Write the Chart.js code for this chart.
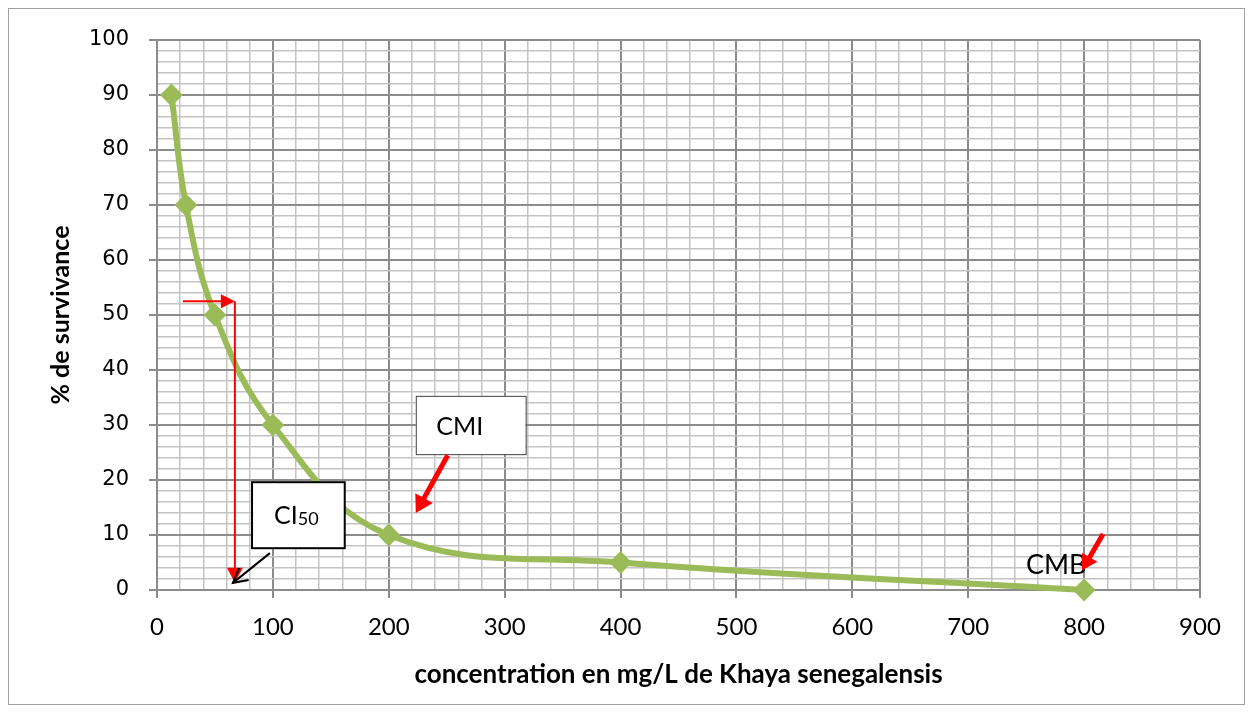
<!DOCTYPE html>
<html lang="fr">
<head>
  <meta charset="UTF-8" />
  <title>% de survivance - Khaya senegalensis</title>
  <script src="https://cdn.jsdelivr.net/npm/chart.js"></script>
  <style>
    html, body { margin: 0; padding: 0; background: #fff; }
    #wrap { width: 1252px; height: 714px; position: relative; }
  </style>
</head>
<body>
  <div id="wrap"><canvas id="chart"></canvas></div>

  <script>
    // ==== DATA ====
    const concentrations = [12.5, 25, 50, 100, 200, 400, 800];
    const survivance = [90, 70, 50, 30, 10, 5, 0];

    const xTitle = 'concentration en mg/L de Khaya senegalensis';
    const yTitle = '% de survivance';

    // annotation anchors, in data units (x = mg/L, y = %)
    const ci50Guide = [[22.4, 52.5], [67.2, 52.5], [67.2, 1.3]];
    const ci50Box = [82, 19.6, 162, 7.6];
    const ci50Pointer = [[97.4, 6.7], [65.5, 1.3]];
    const cmiBox = [223.3, 35.3, 318.1, 24.7];
    const cmiPointer = [[250.9, 24.5], [223.3, 14]];
    const cmbLabel = [775.9, 4.5];
    const cmbPointer = [[816.4, 10.2], [798.3, 3.6]];

    const green = '#9bbb59';
    const majorGrid = '#8c8c8c';
    const minorGrid = '#c3c3c3';
    const sans = 'Lato, "Liberation Sans", sans-serif';

    // ==== HELPERS ====
    function arrowHead(ctx, x1, y1, x2, y2, len, half, color) {
      const a = Math.atan2(y2 - y1, x2 - x1);
      ctx.save();
      ctx.fillStyle = color;
      ctx.beginPath();
      ctx.moveTo(x2, y2);
      ctx.lineTo(x2 - len * Math.cos(a) + half * Math.sin(a), y2 - len * Math.sin(a) - half * Math.cos(a));
      ctx.lineTo(x2 - len * Math.cos(a) - half * Math.sin(a), y2 - len * Math.sin(a) + half * Math.cos(a));
      ctx.closePath();
      ctx.fill();
      ctx.restore();
    }

    function line(ctx, pts, color, width) {
      ctx.save();
      ctx.strokeStyle = color;
      ctx.lineWidth = width;
      ctx.beginPath();
      pts.forEach((p, i) => i ? ctx.lineTo(p[0], p[1]) : ctx.moveTo(p[0], p[1]));
      ctx.stroke();
      ctx.restore();
    }

    // ==== ANNOTATIONS PLUGIN ====
    const annotations = {
      id: 'annotations',
      beforeDraw(chart) {
        const ctx = chart.ctx;
        ctx.save();
        ctx.fillStyle = '#fff';
        ctx.fillRect(0, 0, chart.width, chart.height);
        ctx.strokeStyle = '#a0a0a0';
        ctx.lineWidth = 1;
        ctx.strokeRect(8.5, 8.5, 1236, 696);
        ctx.restore();
      },
      afterDatasetsDraw(chart) {
        const ctx = chart.ctx;
        const sx = chart.scales.x, sy = chart.scales.y;
        const P = (p) => [sx.getPixelForValue(p[0]), sy.getPixelForValue(p[1])];

        // CI50 guide: horizontal then vertical red arrows
        const g = ci50Guide.map(P);
        line(ctx, [g[0], [g[1][0] - 12, g[1][1]]], '#ff0000', 2);
        arrowHead(ctx, g[0][0], g[0][1], g[1][0], g[1][1], 14, 7, '#ff0000');
        line(ctx, [g[1], [g[2][0], g[2][1] - 12]], '#ff0000', 2);
        arrowHead(ctx, g[1][0], g[1][1], g[2][0], g[2][1], 15, 8, '#ff0000');

        // CI50 box
        const b1 = P([ci50Box[0], ci50Box[1]]), b2 = P([ci50Box[2], ci50Box[3]]);
        ctx.save();
        ctx.fillStyle = '#fff';
        ctx.fillRect(b1[0], b1[1], b2[0] - b1[0], b2[1] - b1[1]);
        ctx.strokeStyle = '#000';
        ctx.lineWidth = 2;
        ctx.strokeRect(b1[0], b1[1], b2[0] - b1[0], b2[1] - b1[1]);
        ctx.fillStyle = '#000';
        ctx.textBaseline = 'alphabetic';
        const cx = (b1[0] + b2[0]) / 2 - 2, cy = (b1[1] + b2[1]) / 2 + 9;
        ctx.font = '25px ' + sans;
        const w1 = ctx.measureText('CI').width;
        ctx.font = '18px ' + sans;
        const w2 = ctx.measureText('50').width;
        ctx.font = '25px ' + sans;
        ctx.fillText('CI', cx - (w1 + w2) / 2, cy);
        ctx.font = '18px ' + sans;
        ctx.fillText('50', cx - (w1 + w2) / 2 + w1, cy + 1);
        ctx.restore();

        // CI50 black pointer (open head)
        const k = ci50Pointer.map(P);
        line(ctx, k, '#000', 2);
        const a = Math.atan2(k[1][1] - k[0][1], k[1][0] - k[0][0]);
        line(ctx, [[k[1][0] - 16 * Math.cos(a - 0.5), k[1][1] - 16 * Math.sin(a - 0.5)], k[1],
                   [k[1][0] - 16 * Math.cos(a + 0.5), k[1][1] - 16 * Math.sin(a + 0.5)]], '#000', 2);

        // CMI box
        const m1 = P([cmiBox[0], cmiBox[1]]), m2 = P([cmiBox[2], cmiBox[3]]);
        ctx.save();
        ctx.fillStyle = '#fff';
        ctx.fillRect(m1[0], m1[1], m2[0] - m1[0], m2[1] - m1[1]);
        ctx.strokeStyle = '#404040';
        ctx.lineWidth = 1;
        ctx.strokeRect(m1[0] + 0.5, m1[1] + 0.5, m2[0] - m1[0], m2[1] - m1[1]);
        ctx.fillStyle = '#000';
        ctx.font = '25px ' + sans;
        ctx.textAlign = 'center';
        ctx.textBaseline = 'middle';
        ctx.fillText('CMI', (m1[0] + m2[0]) / 2 - 11, (m1[1] + m2[1]) / 2 + 2);
        ctx.restore();

        // CMI red pointer
        const r = cmiPointer.map(P);
        const ar = Math.atan2(r[1][1] - r[0][1], r[1][0] - r[0][0]);
        line(ctx, [r[0], [r[1][0] - 12 * Math.cos(ar), r[1][1] - 12 * Math.sin(ar)]], '#ff0000', 5);
        arrowHead(ctx, r[0][0], r[0][1], r[1][0], r[1][1], 17, 10, '#ff0000');

        // CMB label and red pointer
        const c = P(cmbLabel);
        ctx.save();
        ctx.fillStyle = '#000';
        ctx.font = '27px ' + sans;
        ctx.textAlign = 'center';
        ctx.textBaseline = 'middle';
        ctx.fillText('CMB', c[0], c[1]);
        ctx.restore();
        const q = cmbPointer.map(P);
        const aq = Math.atan2(q[1][1] - q[0][1], q[1][0] - q[0][0]);
        line(ctx, [q[0], [q[1][0] - 10 * Math.cos(aq), q[1][1] - 10 * Math.sin(aq)]], '#ff0000', 5);
        arrowHead(ctx, q[0][0], q[0][1], q[1][0], q[1][1], 15, 9, '#ff0000');
      }
    };

    // ==== CHART ====
    const points = concentrations.map((x, i) => ({ x: x, y: survivance[i] }));

    new Chart(document.getElementById('chart').getContext('2d'), {
      type: 'line',
      data: {
        datasets: [{
          label: yTitle,
          data: points,
          borderColor: green,
          backgroundColor: green,
          borderWidth: 6,
          tension: 0.4,
          pointStyle: 'rectRot',
          pointRadius: 10,
          pointHoverRadius: 10,
          pointBorderWidth: 2,
          pointBackgroundColor: green,
          pointBorderColor: green,
          clip: false
        }]
      },
      options: {
        responsive: true,
        maintainAspectRatio: false,
        animation: false,
        layout: { padding: { left: 0, top: 40, right: 52, bottom: 0 } },
        plugins: { legend: { display: false }, tooltip: { enabled: false } },
        scales: {
          x: {
            type: 'linear',
            min: 0,
            max: 900,
            afterFit: (s) => { s.height = 124; },
            border: { color: majorGrid, width: 2 },
            grid: {
              lineWidth: (c) => c.tick && c.tick.value % 100 === 0 ? 2 : 1.5,
              color: (c) => c.tick && c.tick.value % 100 === 0 ? majorGrid : minorGrid,
              tickColor: (c) => c.tick && c.tick.value % 100 === 0 ? majorGrid : 'rgba(0,0,0,0)',
              tickLength: 8
            },
            ticks: {
              stepSize: 20,
              autoSkip: false,
              maxRotation: 0,
              padding: 15,
              color: '#000',
              font: { family: sans, size: 24 },
              callback: (v) => v % 100 === 0 ? String(v) : ''
            },
            title: {
              display: true,
              text: xTitle,
              color: '#000',
              font: { family: sans, size: 26, weight: 'bold', lineHeight: 1.2 },
              padding: { top: 0, bottom: 24 }
            }
          },
          y: {
            type: 'linear',
            min: 0,
            max: 100,
            afterFit: (s) => { s.width = 157; },
            border: { color: majorGrid, width: 2 },
            grid: {
              lineWidth: (c) => c.tick && c.tick.value % 10 === 0 ? 2 : 1.5,
              color: (c) => c.tick && c.tick.value % 10 === 0 ? majorGrid : minorGrid,
              tickColor: (c) => c.tick && c.tick.value % 10 === 0 ? majorGrid : 'rgba(0,0,0,0)',
              tickLength: 8
            },
            ticks: {
              stepSize: 2,
              autoSkip: false,
              padding: 20,
              color: '#000',
              font: { family: '"DejaVu Sans", sans-serif', size: 21 },
              callback: (v) => v % 10 === 0 ? String(v) : ''
            },
            title: {
              display: true,
              text: yTitle,
              color: '#000',
              font: { family: sans, size: 25, weight: 'bold', lineHeight: 1.2 },
              padding: { top: 46, bottom: 0 }
            }
          }
        }
      },
      plugins: [annotations]
    });
  </script>
</body>
</html>
